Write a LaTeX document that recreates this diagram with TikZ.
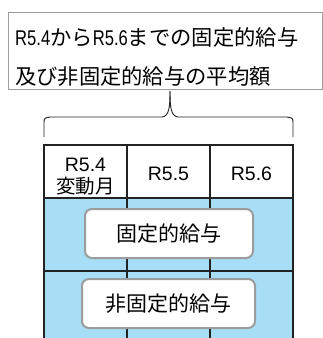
\documentclass[tikz,border=0pt]{standalone}
\usepackage{fontspec}
\setmainfont{Noto Sans CJK JP}
\newfontfamily\lat{Liberation Sans}
% narrow latin inside the title
\newcommand\narrowlat[1]{\scalebox{0.78}[1]{\lat #1}}

\definecolor{cellblue}{HTML}{A8DDF6}
\definecolor{framegray}{HTML}{9C9C9C}
\definecolor{rulegray}{HTML}{222222}

\tikzset{
    % Title frame
    title box/.style={draw=framegray, line width=1.4pt, fill=white},
    title text/.style={anchor=west, inner sep=0pt, font=\fontsize{21.3}{23}\selectfont},
    % Table rules
    rule/.style={rulegray, line width=2pt},
    head text/.style={font=\fontsize{19.5}{22}\selectfont, inner sep=0pt},
    % Rounded labels over the blue rows
    pay box/.style={draw=framegray, line width=2pt, fill=white, rounded corners=7pt,
        minimum height=49pt, font=\fontsize{21}{22}\selectfont},
    % Curly brace
    brace/.style={rulegray, line width=0.9pt},
}

\begin{document}
\begin{tikzpicture}[x=1pt, y=-1pt]
    \useasboundingbox (0,0) rectangle (323,338);

    % Title
    \node[title box, minimum width=314.5pt, minimum height=76.5pt] (title) at (165.5,51) {};
    \node[title text] (line1) at (15,37) {\narrowlat{R5.4}から\narrowlat{R5.6}までの固定的給与};
    \node[title text] (line2) at (15,76) {及び非固定的給与の平均額};

    % Blue rows
    \fill[cellblue] (44,198) rectangle (293,338);

    % Table grid
    \draw[rule] (44,338) -- (44,145) -- (293,145) -- (293,338);
    \draw[rule] (127,145) -- (127,338);
    \draw[rule] (210,145) -- (210,338);
    \draw[rule] (44,198) -- (293,198);
    \draw[rule] (44,271) -- (293,271);

    % Header cells
    \node[head text] (m4) at (85.5,164.5) {\lat R5.4};
    \node[head text] (m4b) at (85.5,186) {変動月};
    \node[head text] (m5) at (168.5,174) {\lat R5.5};
    \node[head text] (m6) at (251.5,174) {\lat R5.6};

    % Labels
    \node[pay box, minimum width=168pt] (fixed) at (169,233.5) {固定的給与};
    \node[pay box, minimum width=173pt] (nonfixed) at (168.5,303.5) {非固定的給与};

    % Brace from title to table
    \coordinate (tip) at (170,91);
    \draw[brace] (44,137) -- (44,124) .. controls (44,118) .. (50,117) -- (162,117)
        .. controls (169,116) and (170,108) .. (tip);
    \draw[brace] (293,137) -- (293,124) .. controls (293,118) .. (287,117) -- (178,117)
        .. controls (171,116) and (170,108) .. (tip);
\end{tikzpicture}
\end{document}
